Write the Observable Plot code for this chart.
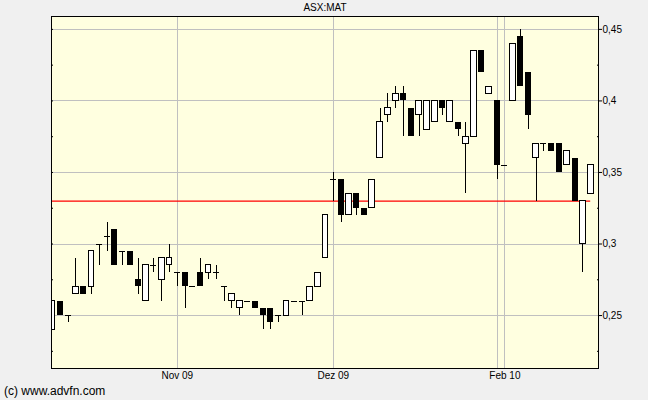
<!DOCTYPE html>
<html><head><meta charset="utf-8">
<script src="https://cdn.jsdelivr.net/npm/d3@7"></script>
<script src="https://cdn.jsdelivr.net/npm/@observablehq/plot@0.6"></script>
<style>
html,body{margin:0;padding:0;background:#f0f0f0;width:648px;height:400px;overflow:hidden;font-family:"Liberation Sans",Arial,sans-serif;color:#000;}
#title{height:14px;line-height:15px;font-size:10px;text-align:center;padding-left:2px;box-sizing:border-box;}
#chart svg{display:block;}
#caption{height:14px;line-height:10px;font-size:12px;padding-left:4px;}
</style></head><body>
<div id="title">ASX:MAT</div>
<div id="chart"></div>
<div id="caption">(c) www.advfn.com</div>
<script>
// Daily OHLC values (one per trading day)
const opens  = [0.24,0.26,0.25,0.265,0.27,0.27,0.30,0.305,0.31,0.295,
                0.295,0.275,0.26,0.285,0.275,0.285,0.28,0.28,0.27,0.28,
                0.28,0.28,0.27,0.26,0.255,0.26,0.26,0.255,0.255,0.25,
                0.25,0.26,0.26,0.26,0.27,0.29,0.345,0.345,0.32,0.335,
                0.325,0.325,0.36,0.39,0.40,0.405,0.395,0.39,0.38,0.385,
                0.40,0.385,0.385,0.37,0.375,0.435,0.405,0.40,0.355,0.40,
                0.445,0.42,0.36,0.37,0.37,0.37,0.355,0.36,0.30,0.335];
const highs  = [0.26,0.26,0.25,0.29,0.27,0.295,0.30,0.315,0.31,0.295,
                0.295,0.29,0.285,0.29,0.29,0.30,0.28,0.28,0.27,0.29,
                0.285,0.285,0.27,0.265,0.26,0.26,0.26,0.255,0.255,0.25,
                0.26,0.26,0.26,0.27,0.28,0.32,0.35,0.345,0.335,0.335,
                0.325,0.345,0.395,0.405,0.41,0.41,0.395,0.40,0.40,0.40,
                0.40,0.40,0.385,0.385,0.435,0.435,0.41,0.40,0.355,0.44,
                0.45,0.42,0.37,0.37,0.37,0.37,0.365,0.36,0.33,0.355];
const lows   = [0.24,0.25,0.245,0.265,0.265,0.265,0.285,0.295,0.285,0.285,
                0.285,0.265,0.26,0.28,0.26,0.28,0.27,0.255,0.27,0.27,
                0.275,0.275,0.26,0.255,0.25,0.26,0.255,0.24,0.24,0.245,
                0.25,0.26,0.25,0.26,0.27,0.29,0.33,0.315,0.32,0.32,
                0.32,0.325,0.36,0.385,0.395,0.375,0.375,0.375,0.38,0.385,
                0.39,0.385,0.375,0.335,0.375,0.42,0.405,0.345,0.355,0.40,
                0.41,0.38,0.33,0.365,0.365,0.35,0.355,0.33,0.28,0.335];
const closes = [0.26,0.25,0.25,0.27,0.265,0.295,0.30,0.305,0.285,0.295,
                0.285,0.27,0.285,0.285,0.29,0.29,0.28,0.27,0.27,0.27,
                0.285,0.28,0.27,0.265,0.26,0.26,0.255,0.25,0.245,0.25,
                0.26,0.26,0.26,0.27,0.28,0.32,0.345,0.32,0.335,0.325,
                0.32,0.345,0.385,0.395,0.405,0.40,0.375,0.40,0.40,0.40,
                0.395,0.40,0.38,0.375,0.435,0.42,0.41,0.355,0.355,0.44,
                0.41,0.39,0.37,0.37,0.365,0.35,0.365,0.33,0.33,0.355];

const refLevel = 0.33;                       // red reference line
const yTicks = [0.25, 0.30, 0.35, 0.40, 0.45];
const yTickLabels = ["0,25", "0,3", "0,35", "0,4", "0,45"];
const yMinorTicks = [0.225, 0.275, 0.325, 0.375, 0.425];
const xTickIdx = [16, 36, 58];               // trading-day index of month starts
const xTickLabels = ["Nov 09", "Dez 09", "Feb 10"];
const xGridIdx = [16, 36, 57, 58];

const data = opens.map((o, i) => ({i, open: o, high: highs[i], low: lows[i], close: closes[i]}));
const halfW = 0.38;
const up = data.filter(d => d.close > d.open);
const down = data.filter(d => d.close < d.open);
const flat = data.filter(d => d.close === d.open);
const yLabel = new Map(yTicks.map((t, k) => [t, yTickLabels[k]]));
const xLabel = new Map(xTickIdx.map((t, k) => [t, xTickLabels[k]]));

const chart = Plot.plot({
  width: 648,
  height: 372,
  marginLeft: 51,
  marginRight: 50,
  marginTop: 2,
  marginBottom: 18,
  style: {background: "transparent", fontFamily: "Liberation Sans, Arial, sans-serif", fontSize: "10px", color: "#000"},
  x: {domain: [-0.13, 70], axis: null, label: null},
  y: {domain: [0.213, 0.459], axis: null, label: null},
  marks: [
    Plot.frame({fill: "#ffffe0", stroke: null}),
    Plot.gridY(yTicks, {stroke: "#c0c0c0", strokeOpacity: 1, shapeRendering: "crispEdges"}),
    Plot.gridX(xGridIdx, {stroke: "#c0c0c0", strokeOpacity: 1, shapeRendering: "crispEdges"}),
    Plot.axisX(xTickIdx, {anchor: "bottom", label: null, tickSize: 0, tickPadding: 3, tickFormat: d => xLabel.get(d), fill: "#000"}),
    Plot.axisY(yTicks, {anchor: "right", label: null, tickSize: 3, tickPadding: 1, tickFormat: d => yLabel.get(d), fill: "#000", stroke: "#000"}),
    Plot.axisY(yMinorTicks, {anchor: "right", label: null, tickSize: -2, text: null, stroke: "#000"}),
    Plot.axisY([...yTicks, ...yMinorTicks], {anchor: "left", label: null, tickSize: -2, text: null, stroke: "#000"}),
    Plot.ruleY([refLevel], {x1: 0, x2: data.length - 1, stroke: "#ff0000", strokeWidth: 1.2}),
    Plot.ruleX(data, {x: "i", y1: "low", y2: "high", stroke: "#000", clip: true, shapeRendering: "crispEdges"}),
    Plot.rect(down, {x1: d => d.i - halfW, x2: d => d.i + halfW, y1: "open", y2: "close", fill: "#000", inset: 0, clip: true, shapeRendering: "crispEdges"}),
    Plot.rect(up, {x1: d => d.i - halfW, x2: d => d.i + halfW, y1: "open", y2: "close", fill: "#fff", stroke: "#000", inset: 0, clip: true, shapeRendering: "crispEdges"}),
    Plot.ruleY(flat, {y: "open", x1: d => d.i - halfW, x2: d => d.i + halfW, stroke: "#000", clip: true, shapeRendering: "crispEdges"}),
    Plot.frame({stroke: "#000", shapeRendering: "crispEdges"})
  ]
});
document.getElementById("chart").appendChild(chart);
</script>
</body></html>
